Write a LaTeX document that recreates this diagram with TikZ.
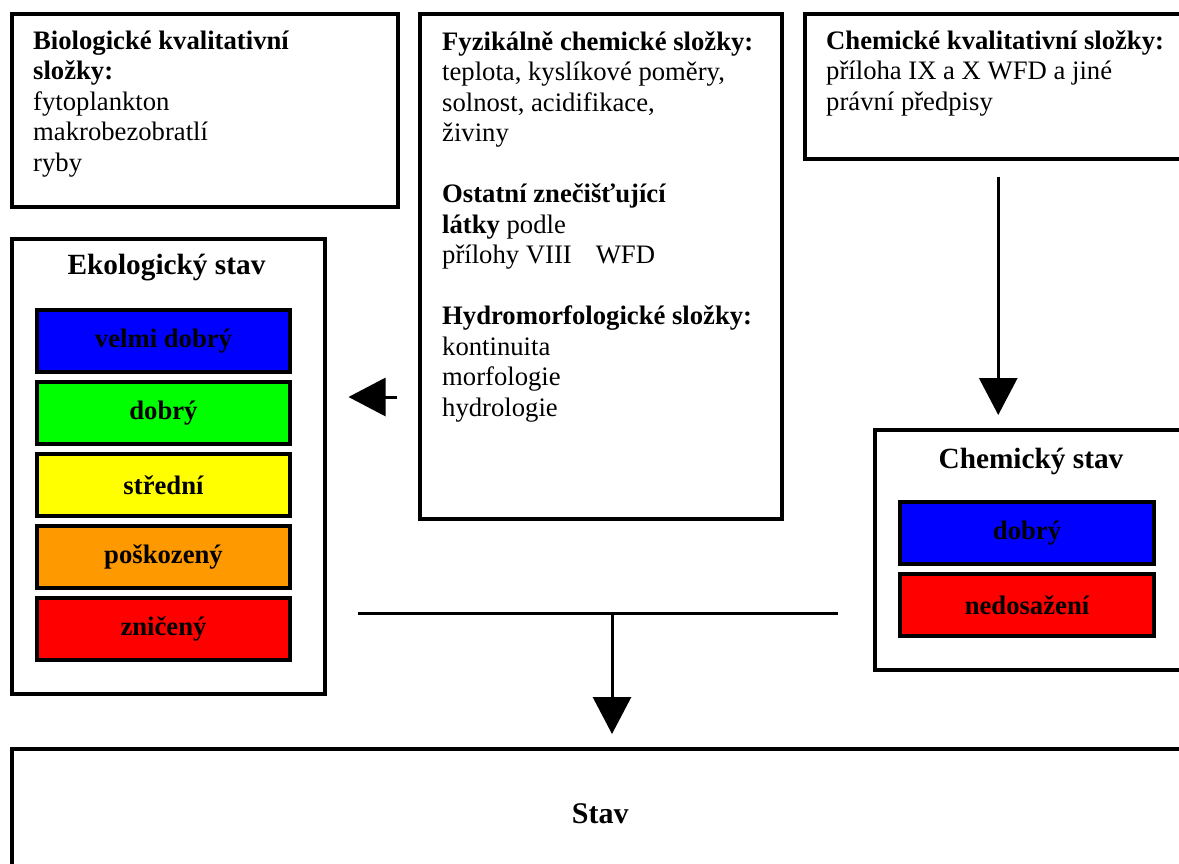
\documentclass[tikz,border=0pt]{standalone}
\usepackage{fontspec}
\setmainfont{Liberation Serif}
\usetikzlibrary{arrows.meta}
\definecolor{cblue}{RGB}{0,0,255}
\definecolor{cgreen}{RGB}{0,255,0}
\definecolor{cyellow}{RGB}{255,255,0}
\definecolor{corange}{RGB}{255,153,0}
\definecolor{cred}{RGB}{255,0,0}
\begin{document}
\begin{tikzpicture}[x=1pt,y=-1pt,
  box/.style={draw, line width=3.5pt, anchor=north west, inner sep=0pt},
  txt/.style={anchor=base west, inner sep=0pt, font=\fontsize{26.67}{30.5}\selectfont},
  ttl/.style={inner sep=0pt, font=\fontsize{29.3}{33}\selectfont\bfseries},
  cbox/.style={draw, line width=4pt, anchor=north west, inner sep=0pt,
    minimum width=253pt, minimum height=62pt, font=\fontsize{26.67}{30.5}\selectfont\bfseries},
  arr/.style={line width=3pt, -{Triangle[length=37pt,width=38pt]}},
  hline/.style={line width=3pt}]
\useasboundingbox (0,0) rectangle (1179,863);
\clip (0,0) rectangle (1179,863);
\fill[white] (0,0) rectangle (1179,863);

% top boxes
\node[box, minimum width=386pt, minimum height=193pt] (bio) at (10,12) {};
\node[txt] (biotxt) at (33,49) {\begin{tabular}[t]{@{}l@{}}
\textbf{Biologické kvalitativní}\\
\textbf{složky:}\\
fytoplankton\\
makrobezobratlí\\
ryby\end{tabular}};

\node[box, minimum width=362pt, minimum height=505pt] (fyz) at (418,12) {};
\node[txt] (fyztxt) at (442,50) {\begin{tabular}[t]{@{}l@{}}
\textbf{Fyzikálně chemické složky:}\\
teplota, kyslíkové poměry,\\
solnost, acidifikace,\\
živiny\\
\\
\textbf{Ostatní znečišťující}\\
\textbf{látky} podle\\
přílohy VIII\hspace{24pt}WFD\\
\\
\textbf{Hydromorfologické složky:}\\
kontinuita\\
morfologie\\
hydrologie\end{tabular}};

\node[box, minimum width=387pt, minimum height=145pt] (ckval) at (803,12) {};
\node[txt] (ckvaltxt) at (826,49) {\begin{tabular}[t]{@{}l@{}}
\textbf{Chemické kvalitativní složky:}\\
příloha IX a X WFD a jiné\\
právní předpisy\end{tabular}};

% ecological status
\node[box, minimum width=313pt, minimum height=455pt] (eko) at (10,237) {};
\node[ttl] (ekottl) at (166.5,268) {Ekologický stav};
\node[cbox, fill=cblue] (e1) at (35,308) {velmi dobrý};
\node[cbox, fill=cgreen] (e2) at (35,380) {dobrý};
\node[cbox, fill=cyellow] (e3) at (35,452) {střední};
\node[cbox, fill=corange] (e4) at (35,524) {poškozený};
\node[cbox, fill=cred] (e5) at (35,596) {zničený};

% chemical status
\node[box, minimum width=316pt, minimum height=240pt] (chs) at (873,428) {};
\node[ttl] (chsttl) at (1031,461) {Chemický stav};
\node[cbox, fill=cblue, minimum width=254pt] (c1) at (898,500) {dobrý};
\node[cbox, fill=cred, minimum width=254pt] (c2) at (898,572) {nedosažení};

% overall status
\node[box, minimum width=1177pt, minimum height=130pt,
  font=\fontsize{30}{34}\selectfont\bfseries] (stav) at (10,747) {Stav};

% connectors
\coordinate (ly) at (0,397);
\draw[arr, shorten <=21pt, shorten >=22pt] (fyz.west |- ly) -- (eko.east |- ly);
\draw[arr, shorten <=16pt, shorten >=13pt] (ckval.south) -- (ckval.south |- chs.north);
\coordinate (hl) at (358,613);
\coordinate (hr) at (838,613);
\coordinate (hm) at (612,613);
\draw[hline] (hl) -- (hr);
\draw[arr, shorten >=13pt] (hm) -- (stav.north -| hm);
\end{tikzpicture}
\end{document}
